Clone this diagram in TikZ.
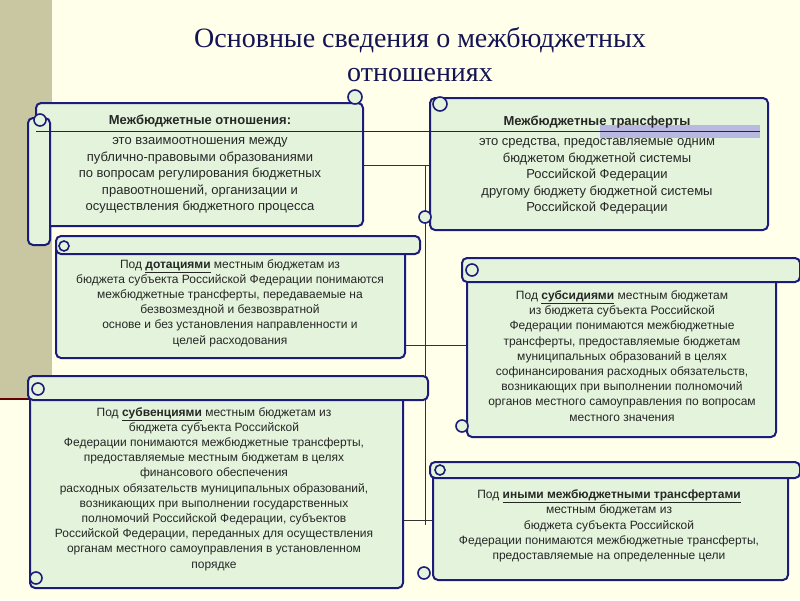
\documentclass[tikz,border=0pt]{standalone}
\usepackage{fontspec}
\setmainfont{Liberation Sans}
\newfontfamily\titlefont{Liberation Serif}
\definecolor{bg}{HTML}{FFFFEA}
\definecolor{strip}{HTML}{C9C6A2}
\definecolor{navy}{HTML}{1C1C7A}
\definecolor{pap}{HTML}{E4F4DC}
\begin{document}
\begin{tikzpicture}[x=1pt,y=-1pt,
  sc/.style={draw=navy,line width=2pt,fill=pap,rounded corners=5pt},
  curl/.style={draw=navy,line width=1.6pt,fill=pap},
  txt/.style={align=center,font=\fontsize{13}{16.5}\selectfont,text=black!85},
  stxt/.style={align=center,font=\fontsize{12}{15.2}\selectfont,text=black!85}]
\useasboundingbox (0,0) rectangle (800,600);
\fill[bg] (0,0) rectangle (800,600);
\fill[strip] (0,0) rectangle (52,400);
\draw[red!40!black,line width=1.5pt] (0,399) -- (52,399);
\node[font=\titlefont\fontsize{28}{34}\selectfont,align=center,text=navy!70!black] (title) at (420,55) {Основные сведения о межбюджетных\\отношениях};
% connectors
\draw[black!80,line width=0.8pt] (425,165) -- (425,525);
\draw[black!80,line width=0.8pt] (363,165) -- (430,165);
\draw[black!80,line width=0.8pt] (405,345) -- (470,345);
\draw[black!80,line width=0.8pt] (400,520) -- (440,520);
% box 1
\draw[sc] (36,103) rectangle (363,226);
\draw[sc] (28,118) rectangle (50,245);
\draw[curl] (40,120) circle (6);
\draw[curl] (355,97) circle (7);
% box 2
\draw[sc] (430,98) rectangle (768,230);
\fill[gray!60!blue!40] (600,125) rectangle (760,138);
\draw[curl] (440,104) circle (7);
\draw[curl] (425,217) circle (6);
\draw[navy,line width=1pt] (36,131) -- (760,131);
\node[txt] (b1) at (200,164) {\textbf{Межбюджетные отношения:}\\[4pt]это взаимоотношения между\\публично-правовыми образованиями\\по вопросам регулирования бюджетных\\правоотношений, организации и\\осуществления бюджетного процесса};
\node[txt] (b2) at (597,165) {\textbf{Межбюджетные трансферты}\\[4pt]это средства, предоставляемые одним\\бюджетом бюджетной системы\\Российской Федерации\\другому бюджету бюджетной системы\\Российской Федерации};
% box 3
\draw[sc] (56,246) rectangle (405,358);
\draw[sc] (56,236) rectangle (420,254);
\draw[curl] (64,246) circle (5);
\node[stxt] (b3) at (230,303) {Под \underline{\textbf{дотациями}} местным бюджетам из\\бюджета субъекта Российской Федерации понимаются\\межбюджетные трансферты, передаваемые на\\безвозмездной и безвозвратной\\основе и без установления направленности и\\целей расходования};
% box 4
\draw[sc] (467,270) rectangle (776,437);
\draw[sc] (462,258) rectangle (800,282);
\draw[curl] (472,270) circle (6);
\draw[curl] (462,426) circle (6);
\node[stxt] (b4) at (622,356) {Под \underline{\textbf{субсидиями}} местным бюджетам\\из бюджета субъекта Российской\\Федерации понимаются межбюджетные\\трансферты, предоставляемые бюджетам\\муниципальных образований в целях\\софинансирования расходных обязательств,\\возникающих при выполнении полномочий\\органов местного самоуправления по вопросам\\местного значения};
% box 5
\draw[sc] (30,390) rectangle (403,588);
\draw[sc] (28,376) rectangle (428,400);
\draw[curl] (38,389) circle (6);
\draw[curl] (36,578) circle (6);
\node[stxt] (b5) at (214,489) {Под \underline{\textbf{субвенциями}} местным бюджетам из\\бюджета субъекта Российской\\Федерации понимаются межбюджетные трансферты,\\предоставляемые местным бюджетам в целях\\финансового обеспечения\\расходных обязательств муниципальных образований,\\возникающих при выполнении государственных\\полномочий Российской Федерации, субъектов\\Российской Федерации, переданных для осуществления\\органам местного самоуправления в установленном\\порядке};
% box 6
\draw[sc] (433,470) rectangle (788,580);
\draw[sc] (430,462) rectangle (800,478);
\draw[curl] (440,470) circle (5);
\draw[curl] (424,573) circle (6);
\node[stxt] (b6) at (609,526) {Под \underline{\textbf{иными межбюджетными трансфертами}}\\местным бюджетам из\\бюджета субъекта Российской\\Федерации понимаются межбюджетные трансферты,\\предоставляемые на определенные цели};
\end{tikzpicture}
\end{document}
